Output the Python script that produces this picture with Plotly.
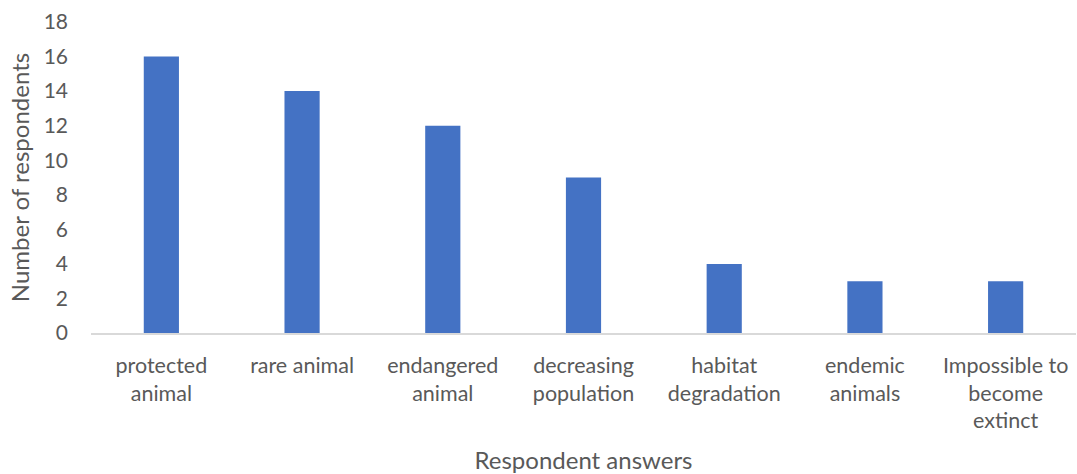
import plotly.graph_objects as go

categories = [
    "protected<br>animal",
    "rare animal",
    "endangered<br>animal",
    "decreasing<br>population",
    "habitat<br>degradation",
    "endemic<br>animals",
    "Impossible to<br>become<br>extinct",
]
respondents = [16, 14, 12, 9, 4, 3, 3]
y_ticks = list(range(0, 19, 2))

font_family = "Lato, 'Open Sans', sans-serif"
text_grey = "#595959"

fig = go.Figure(
    go.Bar(
        x=categories,
        y=respondents,
        marker=dict(color="#4472C4", line=dict(width=0)),
        hoverinfo="x+y",
    )
)

fig.update_layout(
    width=1077,
    height=474,
    margin=dict(l=91, r=1, t=22, b=141),
    paper_bgcolor="white",
    plot_bgcolor="white",
    bargap=0.75,
    showlegend=False,
    font=dict(family=font_family, size=21, color=text_grey),
)

fig.update_xaxes(
    showline=True,
    linecolor="#D9D9D9",
    linewidth=1.5,
    showgrid=False,
    ticks="",
    ticklabelstandoff=12,
    tickfont=dict(size=21.5, color=text_grey),
    title=dict(text="Respondent answers", font=dict(size=24, color=text_grey), standoff=22),
)

fig.update_yaxes(
    range=[0, 18],
    tickvals=y_ticks,
    showgrid=False,
    showline=False,
    zeroline=False,
    ticks="",
    ticklabelstandoff=22,
    tickfont=dict(size=21, color=text_grey),
    title=dict(text="Number of respondents", font=dict(size=24, color=text_grey), standoff=7),
)

fig.write_html("out.html")
